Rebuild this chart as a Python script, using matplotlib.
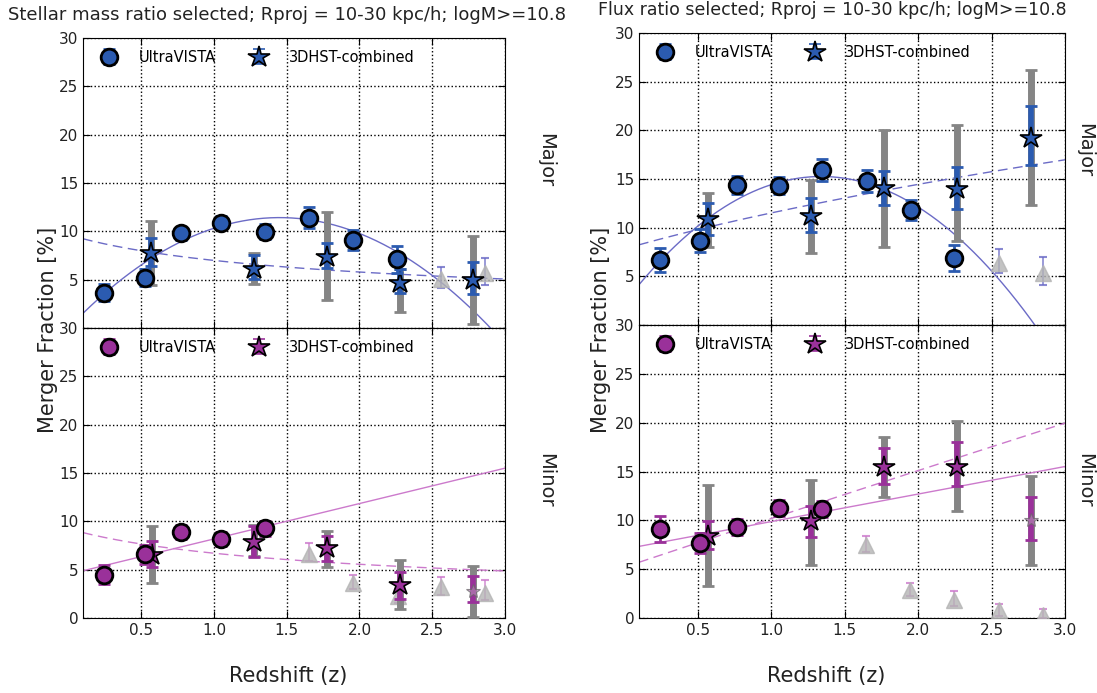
import matplotlib
matplotlib.use('Agg')
import matplotlib.pyplot as plt
import numpy as np

# ---- data ----
# stellar mass ratio, major
sm_maj_uv_z = [0.247, 0.523, 0.776, 1.05, 1.353, 1.654, 1.954, 2.258]
sm_maj_uv_f = [3.66, 5.2, 9.79, 10.89, 9.96, 11.41, 9.1, 7.1]
sm_maj_uv_e = [0.9, 0.9, 0.7, 0.7, 0.8, 1.1, 1.0, 1.4]
sm_maj_3d_z = [0.569, 1.272, 1.774, 2.276, 2.781]
sm_maj_3d_f = [7.72, 6.14, 7.38, 4.69, 4.97]
sm_maj_3d_lo = [6.41, 5.1, 6.24, 3.59, 3.55]
sm_maj_3d_hi = [9.34, 7.58, 8.82, 6.14, 6.86]
sm_maj_3d_glo = [4.41, 4.52, 2.9, 1.66, 0.42]
sm_maj_3d_ghi = [11.06, 7.79, 11.99, 6.14, 9.51]
sm_maj_3d_faded = [False, False, False, False, False]
sm_maj_tri_z = [2.558, 2.862]
sm_maj_tri_f = [5.1, 5.65]
sm_maj_tri_lo = [4.17, 4.41]
sm_maj_tri_hi = [6.34, 7.27]
sm_maj_poly = [-5.43, 15.75, 0.0]     # solid fit, polynomial in z
sm_maj_pow = [9.65, -0.465]           # dashed fit, A*(1+z)^m

# stellar mass ratio, minor
sm_min_uv_z = [0.247, 0.523, 0.776, 1.05, 1.353]
sm_min_uv_f = [4.49, 6.6, 8.88, 8.16, 9.26]
sm_min_uv_e = [1.0, 1.0, 0.7, 0.7, 0.8]
sm_min_3d_z = [0.575, 1.272, 1.774, 2.276, 2.781]
sm_min_3d_f = [6.5, 7.88, 7.19, 3.46, 2.8]
sm_min_3d_lo = [5.29, 6.26, 5.91, 2.0, 1.66]
sm_min_3d_hi = [7.98, 9.5, 8.47, 4.77, 4.32]
sm_min_3d_glo = [3.63, 6.4, 5.29, 0.97, 0.1]
sm_min_3d_ghi = [9.5, 9.6, 9.02, 5.98, 5.39]
sm_min_3d_faded = [False, False, False, False, True]
sm_min_tri_z = [1.652, 1.954, 2.263, 2.558, 2.862]
sm_min_tri_f = [6.67, 3.63, 2.25, 3.21, 2.59]
sm_min_tri_lo = [5.91, 3.04, 1.6, 2.35, 1.83]
sm_min_tri_hi = [7.71, 4.42, 3.0, 4.25, 3.98]
sm_min_poly = [3.66, 4.52]
sm_min_pow = [9.23, -0.462]

# flux ratio, major
fx_maj_uv_z = [0.243, 0.518, 0.768, 1.05, 1.348, 1.65, 1.95, 2.245]
fx_maj_uv_f = [6.68, 8.67, 14.36, 14.33, 15.94, 14.81, 11.79, 6.92]
fx_maj_uv_e = [1.2, 1.2, 0.95, 0.9, 1.1, 1.1, 1.05, 1.35]
fx_maj_3d_z = [0.568, 1.268, 1.766, 2.268, 2.768]
fx_maj_3d_f = [10.87, 11.21, 14.06, 13.95, 19.2]
fx_maj_3d_lo = [9.26, 9.6, 12.34, 11.93, 16.46]
fx_maj_3d_hi = [12.58, 13.03, 15.87, 16.22, 22.45]
fx_maj_3d_glo = [7.99, 7.44, 8.06, 8.67, 12.34]
fx_maj_3d_ghi = [13.61, 14.91, 19.99, 20.57, 26.16]
fx_maj_3d_faded = [False, False, False, False, False]
fx_maj_tri_z = [2.55, 2.848]
fx_maj_tri_f = [6.34, 5.31]
fx_maj_tri_lo = [5.31, 4.11]
fx_maj_tri_hi = [7.82, 7.03]
fx_maj_poly = [-7.22, 19.36, 2.28]
fx_maj_pow = [7.81, 0.56]

# flux ratio, minor
fx_min_uv_z = [0.243, 0.518, 0.768, 1.05, 1.348]
fx_min_uv_f = [9.1, 7.67, 9.31, 11.25, 11.18]
fx_min_uv_e = [1.3, 1.0, 0.8, 0.8, 0.8]
fx_min_3d_z = [0.568, 1.268, 1.766, 2.268, 2.768]
fx_min_3d_f = [8.35, 9.89, 15.51, 15.51, 10.06]
fx_min_3d_lo = [7.06, 8.29, 13.74, 13.47, 7.94]
fx_min_3d_hi = [9.96, 11.42, 17.39, 17.97, 12.44]
fx_min_3d_glo = [3.24, 5.46, 12.44, 10.98, 5.46]
fx_min_3d_ghi = [13.64, 14.15, 18.58, 20.12, 14.49]
fx_min_3d_faded = [False, False, False, False, True]
fx_min_tri_z = [1.648, 1.948, 2.245, 2.55, 2.848]
fx_min_tri_f = [7.5, 2.9, 1.88, 0.85, 0.34]
fx_min_tri_lo = [6.72, 2.28, 1.26, 0.17, 0.0]
fx_min_tri_hi = [8.42, 3.58, 2.73, 1.47, 0.92]
fx_min_poly = [2.82, 7.05]
fx_min_pow = [5.2, 0.97]

titles = ['Stellar mass ratio selected; Rproj = 10-30 kpc/h; logM>=10.8',
          'Flux ratio selected; Rproj = 10-30 kpc/h; logM>=10.8']

BLUE = '#2b5bb0'
BLUE_LINE = '#6b6bc6'
MAG = '#9a319a'
MAG_LINE = '#cc7acc'


def draw_panel(ax, uv, hst, tri, poly, pw, col, lcol):
    uz, uf, ue = uv
    hz, hf, hlo, hhi, glo, ghi, faded = hst
    tz, tf, tlo, thi = tri

    zz = np.linspace(0.1, 3.0, 300)
    ax.plot(zz, np.polyval(poly, zz), '-', color=lcol, lw=1.0, zorder=2)
    ax.plot(zz, pw[0] * (1 + zz) ** pw[1], '--', color=lcol, lw=1.0,
            dashes=(7, 4), zorder=2)

    # faint triangles
    tf = np.array(tf)
    ax.errorbar(tz, tf, yerr=[tf - np.array(tlo), np.array(thi) - tf], fmt='^',
                ms=11, mfc='#b4b4b4', mec='#b4b4b4', alpha=0.8, ecolor=lcol,
                elinewidth=1.2, capsize=3, capthick=1.5, zorder=3)

    # 3DHST stars with gray (total) and coloured error bars
    hf = np.array(hf)
    for i in range(len(hz)):
        ax.errorbar([hz[i]], [hf[i]], yerr=[[hf[i] - glo[i]], [ghi[i] - hf[i]]],
                    fmt='none', ecolor='#858585', elinewidth=5, capsize=4,
                    capthick=2, zorder=4)
        ax.errorbar([hz[i]], [hf[i]], yerr=[[hf[i] - hlo[i]], [hhi[i] - hf[i]]],
                    fmt='none', ecolor=col, elinewidth=4, capsize=4,
                    capthick=2, zorder=5)
        if faded[i]:
            ax.plot([hz[i]], [hf[i]], '*', ms=10, mfc='#b080b0', mec='#666666',
                    mew=0.8, alpha=0.7, zorder=6)
        else:
            ax.plot([hz[i]], [hf[i]], '*', ms=16, mfc=col, mec='k',
                    mew=1.2, zorder=6)

    # UltraVISTA circles
    h1 = ax.errorbar(uz, uf, yerr=ue, fmt='o', ms=12, mfc=col, mec='k', mew=2,
                     ecolor=col, elinewidth=2, capsize=4, capthick=2, zorder=7)
    h2 = ax.errorbar([-5], [-5], yerr=[1], fmt='*', ms=16, mfc=col, mec='k',
                     mew=1.2, ecolor=col, elinewidth=3, capsize=4, capthick=2)

    ax.legend([h1, h2], ['UltraVISTA', '3DHST-combined'], loc='upper left',
              ncol=2, frameon=False, numpoints=1, fontsize=10.5,
              columnspacing=2.0, handletextpad=1.0, borderaxespad=0.4)

    ax.set_xlim(0.1, 3.0)
    ax.set_ylim(0, 30)
    ax.set_xticks([0.5, 1.0, 1.5, 2.0, 2.5, 3.0])
    ax.set_yticks([0, 5, 10, 15, 20, 25, 30])
    ax.grid(True, color='k', linestyle=':', linewidth=1.0)
    ax.set_axisbelow(True)
    ax.tick_params(direction='in', top=True, right=True, length=5,
                   labelsize=11, colors='k', labelcolor='#222222')


fig = plt.figure(figsize=(10.97, 6.93), dpi=100)
W, H = 1097.0, 693.0

rects = {
    'tl': [83 / W, 1 - 328 / H, 422 / W, 290 / H],
    'bl': [83 / W, 1 - 618 / H, 422 / W, 290 / H],
    'tr': [639 / W, 1 - 325 / H, 426 / W, 292 / H],
    'br': [639 / W, 1 - 618 / H, 426 / W, 293 / H],
}

ax_tl = fig.add_axes(rects['tl'])
draw_panel(ax_tl, (sm_maj_uv_z, sm_maj_uv_f, sm_maj_uv_e),
           (sm_maj_3d_z, sm_maj_3d_f, sm_maj_3d_lo, sm_maj_3d_hi,
            sm_maj_3d_glo, sm_maj_3d_ghi, sm_maj_3d_faded),
           (sm_maj_tri_z, sm_maj_tri_f, sm_maj_tri_lo, sm_maj_tri_hi),
           sm_maj_poly, sm_maj_pow, BLUE, BLUE_LINE)

ax_bl = fig.add_axes(rects['bl'])
draw_panel(ax_bl, (sm_min_uv_z, sm_min_uv_f, sm_min_uv_e),
           (sm_min_3d_z, sm_min_3d_f, sm_min_3d_lo, sm_min_3d_hi,
            sm_min_3d_glo, sm_min_3d_ghi, sm_min_3d_faded),
           (sm_min_tri_z, sm_min_tri_f, sm_min_tri_lo, sm_min_tri_hi),
           sm_min_poly, sm_min_pow, MAG, MAG_LINE)

ax_tr = fig.add_axes(rects['tr'])
draw_panel(ax_tr, (fx_maj_uv_z, fx_maj_uv_f, fx_maj_uv_e),
           (fx_maj_3d_z, fx_maj_3d_f, fx_maj_3d_lo, fx_maj_3d_hi,
            fx_maj_3d_glo, fx_maj_3d_ghi, fx_maj_3d_faded),
           (fx_maj_tri_z, fx_maj_tri_f, fx_maj_tri_lo, fx_maj_tri_hi),
           fx_maj_poly, fx_maj_pow, BLUE, BLUE_LINE)

ax_br = fig.add_axes(rects['br'])
draw_panel(ax_br, (fx_min_uv_z, fx_min_uv_f, fx_min_uv_e),
           (fx_min_3d_z, fx_min_3d_f, fx_min_3d_lo, fx_min_3d_hi,
            fx_min_3d_glo, fx_min_3d_ghi, fx_min_3d_faded),
           (fx_min_tri_z, fx_min_tri_f, fx_min_tri_lo, fx_min_tri_hi),
           fx_min_poly, fx_min_pow, MAG, MAG_LINE)

for ax in (ax_tl, ax_tr):
    ax.set_xticklabels([])
    ax.set_yticklabels(['', '5', '10', '15', '20', '25', '30'])

# titles, labels
fig.text(8 / W, 1 - 15 / H, titles[0], fontsize=13, ha='left', va='center', color='#222222')
fig.text(598 / W, 1 - 10 / H, titles[1], fontsize=12.5, ha='left', va='center', color='#222222')

for xp in (48, 601):
    fig.text(xp / W, 1 - 330 / H, 'Merger Fraction [%]', fontsize=15,
             rotation=90, ha='center', va='center', color='#222222')
for xp in (288, 826):
    fig.text(xp / W, 1 - 676 / H, 'Redshift (z)', fontsize=15,
             ha='center', va='center', color='#222222')
for xp, yp, lab in ((546, 160, 'Major'), (546, 480, 'Minor'),
                    (1085, 150, 'Major'), (1085, 480, 'Minor')):
    fig.text(xp / W, 1 - yp / H, lab, fontsize=14, rotation=-90,
             ha='center', va='center', color='#222222')

fig.savefig('out.png', dpi=100)
